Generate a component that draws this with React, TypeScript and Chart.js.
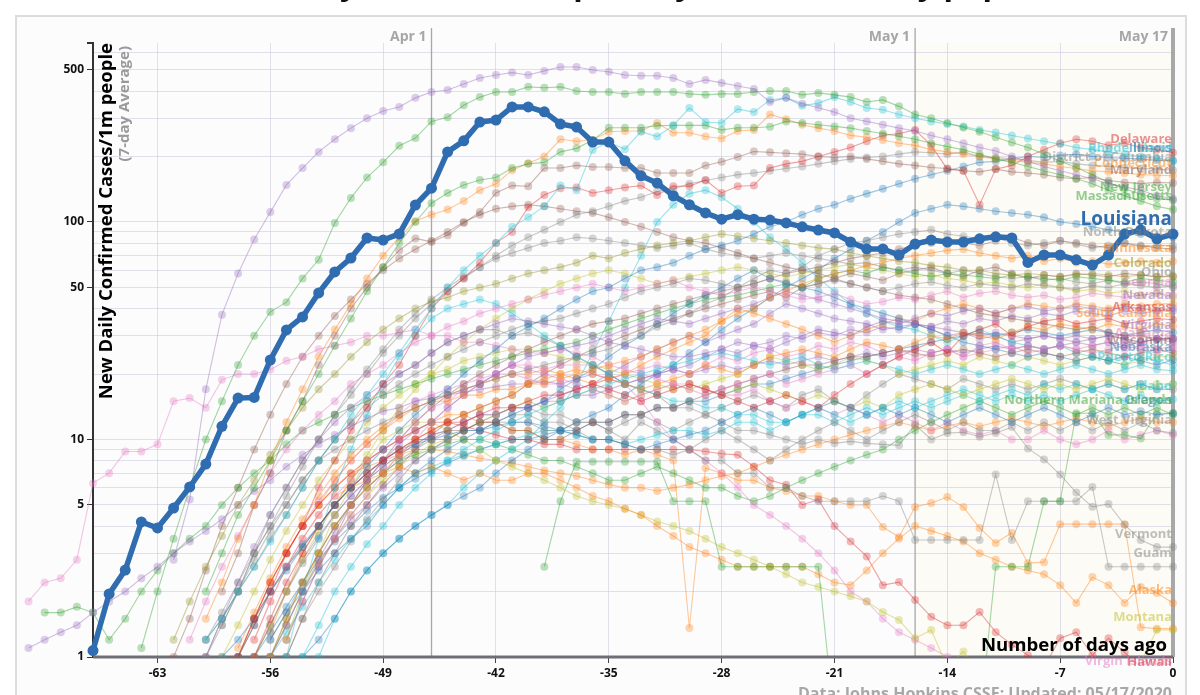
import React, { useEffect, useRef } from 'react';
import { Chart, registerables } from 'chart.js';
Chart.register(...registerables);

// ---------- axes / annotations ----------
const X_TICKS = [-63, -56, -49, -42, -35, -28, -21, -14, -7, 0];
const Y_GRID = [1, 2, 3, 4, 5, 6, 7, 8, 9, 10, 20, 30, 40, 50, 60, 70, 80, 90, 100, 200, 300, 400, 500, 600];
const Y_LABELED = [1, 5, 10, 50, 100, 500];
const EVENT_LABELS = ['Apr 1', 'May 1', 'May 17'];
const EVENT_DAYS = [-46, -16, 0];
const TITLE = 'Louisiana Daily Cases, Totals per Day, Normalized by population';

// ---------- series (each array ends at day 0) ----------
const LOUISIANA = [1.07, 1.95, 2.51, 4.18, 3.92, 4.84, 6.05, 7.71, 11.5, 15.5, 15.6, 23.2, 31.9, 36.6, 47.2, 58.9, 68.3, 84.4, 82.6, 88.1, 119.7, 143, 210, 236, 288, 294, 338, 338, 321, 282, 273, 233, 233, 191, 163, 151, 132, 120, 110, 103, 108, 103, 102, 99, 95, 91.8, 89, 80.9, 75.2, 75.2, 70.5, 79.2, 82.6, 80.9, 80.9, 83.7, 85.5, 84.4, 65.2, 70.5, 70.5, 67, 63.4, 70.5, 88, 91.8, 83.7, 88];
const NEW_YORK = [2.8, 5.3, 17, 37.5, 58, 83, 111, 148, 177, 210, 240, 270, 300, 324, 338, 372, 396, 404, 431, 459, 474, 486, 474, 495, 516, 516, 500, 490, 474, 470, 470, 459, 431, 450, 436, 422, 409, 356, 372, 350, 335, 320, 300, 290, 280, 270, 262, 250, 240, 230, 220, 212, 200, 190, 180, 172, 165, 158, 150, 145, 140, 132, 128];
const NEW_JERSEY = [1.1, 2, 3.5, 6, 10, 15, 22, 30, 38.6, 42.8, 55, 67, 99, 129, 160, 188, 224, 243, 290, 303, 344, 375, 396, 396, 418, 414, 418, 400, 396, 396, 388, 396, 396, 396, 388, 384, 388, 388, 396, 400, 400, 384, 392, 384, 375, 356, 364, 340, 312, 300, 285, 272, 260, 245, 232, 220, 205, 190, 178, 165, 152, 142, 134, 128, 126];
const RHODE_ISLAND = [1.2, 1.5, 2, 2.6, 3.4, 4.5, 6, 8, 10, 13, 16, 20, 25, 32, 40, 50, 60, 70, 80, 95, 105, 118, 147, 140, 214, 233, 216, 260, 247, 278, 334, 288, 285, 330, 320, 364, 372, 342, 352, 375, 356, 334, 328, 312, 300, 290, 282, 275, 265, 258, 250, 242, 235, 228, 220, 215, 210, 205, 200, 196, 191];
const MASSACHUSETTS = [2, 3, 4.5, 6, 8, 11, 15, 20, 27, 36, 48, 62, 80, 100, 122, 136, 148, 156, 160, 177, 185, 188, 210, 218, 238, 271, 271, 271, 277, 278, 278, 278, 265, 271, 271, 274, 290, 285, 280, 275, 270, 262, 255, 248, 240, 230, 222, 215, 205, 195, 188, 180, 172, 165, 158, 150, 140, 132, 125, 118, 114];
const CONNECTICUT = [1.5, 2.2, 3.5, 5, 8, 12, 17, 24, 32, 42, 55, 70, 85, 101, 108, 114, 125, 140, 150, 173, 186, 200, 240, 235, 238, 260, 262, 262, 285, 257, 257, 247, 242, 262, 265, 312, 297, 280, 270, 262, 250, 245, 238, 230, 225, 215, 210, 205, 200, 195, 192, 188, 185, 180, 176, 172, 170, 168, 165, 164, 163];
const MARYLAND = [2, 3, 5, 7, 11, 15, 22, 30, 40, 50, 62, 74, 84, 81, 87, 99, 111, 136, 147, 146, 177, 177, 182, 179, 179, 177, 177, 168, 168, 168, 182, 189, 199, 211, 209, 207, 205, 200, 198, 200, 195, 190, 185, 182, 178, 176, 172, 170, 175, 170, 168, 165, 160, 158, 160, 155, 152, 150, 152, 151];
const DELAWARE = [1.5, 2, 3, 4, 6, 8, 11, 14, 18, 22, 30, 40, 48, 55, 65, 80, 90, 117, 133, 143, 144, 136, 140, 144, 147, 133, 146, 146, 156, 136, 146, 147, 177, 185, 190, 200, 210, 220, 235, 250, 255, 265, 225, 175, 172, 120, 175, 182, 200, 215, 230, 240, 235, 225, 230, 220, 215, 208];
const DISTRICT_OF_COLUMBIA = [1.4, 2, 3, 4.5, 6, 8, 10, 13, 16, 20, 25, 30, 36, 42, 48, 55, 62, 70, 78, 85, 92, 100, 108, 112, 118, 125, 130, 138, 142, 150, 155, 160, 165, 168, 172, 176, 180, 185, 190, 195, 198, 200, 205, 210, 208, 205, 210, 200, 198, 195, 192, 188, 190, 185, 182, 180, 178, 176, 175, 173];
const ILLINOIS = [1, 1.2, 1.5, 2, 2.5, 3.2, 4, 5, 6, 7.5, 9, 11, 13, 15, 17, 20, 23, 26, 30, 33, 36, 40, 44, 48, 50, 55, 60, 62, 65, 70, 75, 78, 82, 88, 95, 100, 108, 115, 120, 128, 135, 142, 150, 158, 165, 172, 180, 188, 190, 195, 200, 198, 202, 205, 200, 198, 196, 195, 192, 191];
const NORTH_DAKOTA = [1.2, 1.6, 2.2, 3, 4, 5, 6.5, 8, 9, 10, 11, 12, 13, 14, 15, 16, 17, 18, 19, 20, 21, 22, 23, 24, 25, 26, 28, 30, 33, 35, 38, 42, 45, 50, 55, 60, 58, 62, 70, 75, 80, 82, 85, 88, 90, 92, 88, 86, 84, 85, 80, 78, 80, 82, 79, 76, 78, 80, 77, 78, 78];
const MINNESOTA = [1.1, 1.6, 2.3, 3.2, 4.3, 5.5, 7, 8.5, 10, 11.5, 13, 14, 15, 15, 16, 16, 17, 17, 18, 18, 19, 20, 21, 22, 23, 24, 26, 28, 30, 32, 35, 38, 40, 45, 48, 52, 55, 58, 60, 63, 65, 68, 70, 72, 74, 75, 72, 70, 68, 70, 66, 68, 65, 66, 64, 65, 66, 65, 66];
const COLORADO = [1.2, 1.8, 2.6, 3.6, 5, 6.5, 8.5, 11, 14, 17, 20, 24, 28, 32, 36, 40, 43, 45, 48, 50, 52, 55, 58, 60, 62, 65, 70, 68, 72, 75, 78, 80, 82, 85, 88, 86, 84, 82, 80, 78, 76, 75, 72, 70, 68, 66, 65, 63, 62, 60, 60, 58, 57, 58, 57, 56, 57, 58, 57, 56, 57, 56, 56.5];
const OHIO = [1, 1.4, 2, 2.8, 3.8, 5, 6.5, 8, 10, 12, 14, 16, 18, 20, 22, 24, 26, 28, 30, 32, 34, 35, 36, 38, 40, 42, 45, 48, 50, 52, 55, 54, 52, 50, 52, 55, 53, 50, 52, 54, 52, 50, 48, 50, 52, 53, 51, 50, 52, 51, 50, 52, 51, 50, 49, 51, 50, 52, 51, 50, 51];
const GEORGIA = [1.2, 1.8, 2.6, 3.6, 5, 7, 9, 11, 13, 15, 18, 20, 22, 25, 28, 30, 33, 35, 38, 40, 42, 44, 46, 48, 50, 52, 50, 48, 50, 52, 54, 50, 48, 46, 48, 50, 48, 46, 44, 45, 47, 44, 42, 43, 45, 44, 46, 48, 45, 47, 48, 46, 45, 46, 44, 45, 47, 46, 45, 46, 47, 46];
const NEVADA = [1, 1.5, 2.2, 3.2, 4.5, 6, 8, 10, 12, 14, 16, 18, 20, 22, 25, 28, 30, 32, 34, 36, 35, 34, 33, 32, 30, 28, 27, 26, 25, 24, 24, 25, 26, 28, 27, 26, 28, 30, 32, 31, 30, 33, 35, 34, 36, 38, 37, 39, 40, 38, 40, 41, 39, 40, 41, 40, 39, 41, 40, 39, 40.2];
const ARKANSAS = [1, 1.5, 2.2, 3, 4, 5, 6, 7, 8, 9, 10, 11, 12, 12, 13, 14, 14, 15, 16, 16, 17, 18, 17, 16, 15, 16, 17, 18, 17, 16, 15, 14, 15, 16, 15, 14, 16, 18, 20, 22, 24, 26, 28, 25, 30, 32, 34, 30, 33, 35, 36, 34, 35, 36, 34, 35, 36, 35.5];
const SOUTH_CAROLINA = [1, 1.5, 2.2, 3, 4, 5, 6, 7, 8.5, 10, 11, 12, 13, 14, 15, 16, 18, 19, 20, 21, 20, 19, 18, 17, 18, 19, 20, 22, 21, 20, 22, 24, 25, 26, 25, 24, 26, 28, 27, 26, 28, 30, 29, 31, 30, 29, 31, 33, 32, 34, 33, 32, 34, 33, 32, 34, 33.2];
const VIRGINIA = [1, 1.4, 2, 2.8, 3.8, 5, 6.5, 8, 9.5, 11, 12, 14, 16, 18, 20, 22, 24, 25, 26, 27, 28, 30, 32, 34, 36, 35, 34, 36, 38, 40, 42, 45, 48, 46, 44, 42, 40, 38, 36, 35, 34, 33, 32, 31, 30, 31, 30, 29, 30, 29, 30, 29, 30, 29, 28, 29, 29.2];
const ALABAMA = [1.2, 1.8, 2.6, 3.5, 4.5, 5.5, 6.5, 8, 9, 10, 12, 14, 15, 17, 18, 20, 22, 21, 20, 19, 18, 17, 16, 15, 16, 17, 18, 17, 16, 17, 18, 19, 20, 18, 19, 20, 21, 22, 20, 22, 24, 23, 25, 26, 24, 27, 28, 26, 27, 26, 27, 26, 27, 28, 26, 27, 26, 26.9];
const WISCONSIN = [1, 1.4, 2, 2.6, 3.2, 4, 5, 6, 7, 8, 9, 10, 10, 11, 11, 12, 12, 11, 11, 10, 10, 11, 12, 12, 13, 13, 14, 14, 15, 16, 17, 18, 19, 20, 21, 22, 22, 23, 24, 24, 25, 26, 25, 24, 25, 26, 25, 24, 25, 26, 25, 24, 25, 26, 25, 24, 25, 26, 25];
const NEBRASKA = [1.2, 1.6, 2, 2.5, 3, 3.5, 4, 5, 6, 7, 8, 9, 10, 11, 12, 13, 14, 15, 17, 19, 21, 24, 27, 30, 34, 38, 42, 46, 50, 55, 60, 55, 52, 50, 48, 45, 42, 40, 38, 36, 34, 32, 30, 28, 27, 26, 25, 24, 25, 24, 23, 24, 23, 24, 23, 22, 23.2];
const PUERTO_RICO = [1, 1.4, 2, 2.6, 3.3, 4, 5, 6, 7, 8, 9, 10, 11, 12, 13, 14, 15, 16, 17, 18, 19, 20, 21, 22, 23, 24, 25, 24, 23, 22, 23, 24, 22, 21, 22, 23, 22, 21, 20, 21, 22, 21, 20, 21, 22, 21, 20, 21, 22, 21, 20, 21, 22, 21, 20.7];
const IDAHO = [1, 2, 3.5, 6, 9, 13, 18, 24, 30, 36, 40, 42, 44, 42, 38, 34, 30, 27, 24, 22, 20, 18, 17, 16, 15, 15, 14, 14, 13, 13, 12, 12, 13, 14, 13, 12, 13, 14, 15, 14, 15, 16, 17, 16, 15, 16, 15, 16, 15, 16, 17, 16, 15, 16, 15, 15.3];
const OREGON = [1, 1.4, 2, 2.6, 3.3, 4, 5, 6, 7, 8, 9, 9.5, 10, 10.5, 11, 11, 11.5, 12, 12, 11.5, 11, 10.5, 10, 10, 9.5, 9, 9.5, 10, 10.5, 11, 12, 13, 14, 13, 12, 13, 14, 15, 14, 13, 14, 13, 14, 13, 12, 13, 14, 13, 12, 13, 14, 13, 12, 13, 14, 13, 13.5, 13, 13.2];
const NORTHERN_MARIANA = [2.6, 5.2, 7.9, 7.9, 7.9, 7.9, 7.9, 7.9, 5.2, 5.2, 5.2, 2.6, 2.6, 2.6, 2.6, 2.6, 2.6, 2.6, 0.5, 0.5, 0.5, 0.5, 0.5, 0.5, 0.5, 0.5, 0.5, 0.5, 2.6, 2.6, 2.6, 5.2, 5.2, 13.2, 13.2, 10.5, 10.5, 10.1, 13.2, 13.2];
const WEST_VIRGINIA = [1, 1.5, 2, 2.6, 3.4, 4.3, 5.3, 6.5, 8, 9, 10, 11, 12, 12, 13, 13, 12, 12, 11, 10, 10, 9.5, 9, 9, 8.5, 9, 10, 11, 10, 9, 8, 9, 10, 11, 12, 11, 10, 11, 12, 13, 12, 11, 12, 11, 11, 12, 11, 12, 11, 12, 11, 12, 11, 12, 11, 10.7];
const VERMONT = [1.2, 1.5, 2, 2.6, 3.5, 4.5, 6, 8, 10, 12, 15, 17, 20, 22, 25, 28, 30, 32, 32, 30, 31, 29, 27, 24, 22, 20, 18, 17, 16, 14, 14, 13, 12, 11, 11, 10.5, 10, 9.5, 10, 9.6, 9.8, 9.6, 9.5, 9.4, 11.7, 10, 10.7, 10.8, 10.3, 10.7, 11.4, 9.1, 8.1, 6.9, 5.7, 4.9, 5.05, 4.05, 3.45, 3.2, 3.2];
const GUAM = [1.2, 1.6, 2.2, 3, 4, 5, 6, 7, 8, 9, 10, 10, 11, 11, 12, 12, 12, 11, 11, 12, 12, 11, 10, 12, 11, 10, 9, 8, 8, 7, 7, 6, 6, 5.5, 5.2, 5.2, 5.2, 5.2, 5.5, 5.2, 3.45, 3.45, 3.45, 3.45, 3.45, 6.9, 3.45, 5.2, 5.2, 5.2, 5.2, 6.05, 2.6, 2.6, 2.6, 2.6, 2.6];
const ALASKA = [1.2, 1.8, 2.6, 3.5, 4.5, 5.5, 6, 6.5, 7, 7.5, 7, 7.5, 7, 6.5, 7, 6.5, 6.5, 7, 7, 6.5, 6, 5.5, 5.2, 4.8, 4.5, 4, 3.6, 3.2, 3, 2.8, 2.6, 2.6, 2.6, 2.6, 2.6, 2.4, 2.2, 2.14, 2.5, 3, 3.5, 4, 3.8, 3.6, 3.4, 3, 2.8, 2.6, 2.5, 2.4, 2.14, 1.77, 2.33, 2.14, 1.77, 2.1, 1.97, 1.77];
const MONTANA = [1.2, 2, 3, 4.5, 6, 8, 10, 11, 12, 12, 11, 10, 9, 8, 7.5, 7, 6.5, 6, 5.5, 5.2, 5, 4.8, 4.5, 4.2, 4, 3.8, 3.5, 3.2, 3, 2.8, 2.6, 2.4, 2.2, 2.1, 2, 1.9, 1.8, 1.61, 1.48, 1.22, 1.33, 0.9, 1.06, 0.8, 0.7, 0.8, 0.7, 0.6, 0.7, 0.8, 0.9, 0.9, 0.95, 0.95, 1.33, 1.33];
const HAWAII = [1, 1.5, 2.2, 3, 4, 5, 6, 7, 8, 9, 10, 11, 12, 12, 11.5, 11, 10.5, 10, 10, 9.5, 9.5, 9, 9, 9, 9, 9, 9, 9, 9, 8.8, 8.6, 8.5, 7.5, 6.5, 6.2, 5, 5.3, 4, 3.4, 2.9, 2.14, 2.21, 1.83, 1.53, 1.4, 1.4, 1.61, 1.3, 1.14, 1.02, 0.9, 1.22, 1.3, 1.02, 1.22, 1.05, 0.9, 0.85, 0.82];
const VIRGIN_ISLANDS = [1.2, 1.8, 2.6, 3.5, 4.5, 5.5, 7, 8.5, 10, 12, 14, 16, 18, 20, 22, 22, 21, 22, 22, 22, 20, 18, 15, 12, 10, 9, 8, 7, 6, 5, 4.5, 4, 3.5, 3, 2.5, 2, 1.8, 1.5, 1.3, 1.2, 1.1, 1, 0.9, 0.9, 0.9, 0.8, 0.8, 0.9, 0.9, 0.8, 0.8, 0.85, 0.85, 0.8, 0.85, 0.83];
const WASHINGTON = [1.8, 2.2, 2.3, 2.8, 6.3, 7, 8.8, 8.8, 9.5, 15, 15.5, 14, 18.8, 20, 20, 21, 23, 24, 26, 27, 28, 30, 30, 31, 32, 30, 30, 28, 28, 27, 26, 25, 25, 26, 25, 24, 22, 21, 20, 19, 18, 18, 17, 16, 16, 17, 15, 14, 15, 14, 13, 14, 13, 12, 13, 12, 11, 12, 11, 10.5, 11, 10, 10, 11, 10, 9.5, 10, 11, 10, 10.5, 11, 10.5];
const CALIFORNIA = [1.1, 1.2, 1.3, 1.4, 1.6, 1.8, 2, 2.3, 2.6, 3, 3.4, 3.8, 4.3, 5, 5.8, 6.5, 7.5, 8.5, 9.5, 10.5, 11.5, 12.5, 13.5, 14, 15, 15.5, 16, 16.5, 17, 17.5, 18, 18, 18.5, 18, 19, 20, 19, 18, 19, 20, 21, 20, 21, 22, 21, 22, 23, 22, 23, 24, 23, 24, 25, 24, 25, 26, 25, 26, 25, 26, 27, 26, 27, 26, 27, 28, 27, 28, 27, 28, 29, 28];
const NEW_HAMPSHIRE = [1.6, 1.6, 1.7, 1.6, 1.2, 1.5, 2, 2.5, 3, 3.5, 4, 5, 6, 7, 8, 9.5, 11, 12, 13, 14, 15, 16, 17, 18, 19, 20, 21, 22, 23, 24, 25, 26, 27, 28, 30, 32, 34, 36, 38, 40, 42, 44, 45, 46, 48, 50, 52, 50, 55, 58, 60, 58, 62, 60, 58, 56, 58, 57, 56, 55, 57, 56, 55, 54, 56, 55, 54, 53, 55, 54, 53];
const MICHIGAN = [1, 1.5, 2.5, 4, 6, 9, 13, 18, 24, 30, 37, 44, 52, 60, 68, 75, 82, 90, 100, 108, 115, 118, 120, 118, 115, 112, 110, 105, 100, 95, 90, 85, 82, 80, 76, 72, 68, 65, 62, 60, 58, 55, 52, 50, 48, 46, 45, 44, 42, 40, 38, 37, 36, 35, 34, 33, 32, 33, 31, 30, 30, 29, 29];
const PENNSYLVANIA = [1, 1.5, 2, 3, 4, 5.5, 7.5, 10, 13, 17, 21, 26, 32, 38, 44, 50, 56, 62, 68, 72, 76, 80, 82, 85, 84, 82, 80, 78, 76, 78, 80, 75, 72, 70, 68, 70, 72, 70, 68, 66, 64, 65, 62, 60, 62, 60, 58, 60, 58, 56, 55, 56, 54, 55, 53, 52, 54, 52, 53, 52, 50];
const INDIANA = [1, 1.4, 2, 2.8, 3.8, 5, 6.5, 8.5, 11, 14, 17, 20, 24, 28, 32, 36, 40, 44, 48, 52, 55, 58, 60, 58, 55, 52, 54, 56, 58, 60, 62, 60, 58, 56, 58, 60, 62, 64, 62, 60, 58, 56, 57, 55, 54, 52, 53, 51, 50, 52, 50, 48, 49, 47, 48, 46, 47, 45];
const MISSISSIPPI = [1.2, 1.8, 2.6, 3.5, 5, 6.5, 8, 10, 12, 14, 16, 18, 20, 22, 24, 26, 28, 30, 32, 34, 35, 36, 38, 40, 42, 44, 46, 48, 50, 52, 55, 58, 60, 62, 65, 68, 70, 72, 75, 78, 80, 82, 80, 78, 82, 85, 80, 78, 82, 80, 78, 76, 80, 78, 76, 75];
const IOWA = [1, 1.2, 1.5, 2, 2.5, 3, 3.5, 4, 4.5, 5, 5.5, 6, 7, 8, 9, 10, 11, 12, 13, 14, 16, 18, 20, 22, 25, 28, 32, 36, 40, 45, 50, 55, 60, 68, 75, 82, 90, 100, 110, 115, 120, 118, 115, 112, 110, 108, 105, 100, 98, 95, 92, 90, 88, 86, 85];
const SOUTH_DAKOTA = [1, 1.5, 2, 2.5, 3, 3.5, 4, 4.5, 5, 6, 7, 8, 9, 10, 12, 14, 18, 25, 35, 50, 70, 100, 120, 135, 140, 130, 115, 100, 85, 75, 65, 55, 48, 42, 38, 35, 33, 32, 30, 28, 30, 32, 30, 28, 27, 26, 27, 25, 24, 23, 22, 24, 23, 22];
const TENNESSEE = [1, 1.5, 2.2, 3, 4, 5, 6.5, 8, 9.5, 11, 12.5, 14, 15, 16, 17, 18, 19, 20, 20, 21, 20, 19, 18, 19, 20, 22, 24, 26, 28, 30, 35, 40, 38, 36, 34, 32, 30, 28, 30, 32, 34, 36, 35, 38, 40, 42, 40, 38, 40, 42, 41, 40, 42, 41, 40, 42, 41, 42, 42];
const FLORIDA = [1, 1.4, 2, 2.8, 3.8, 5, 6.5, 8, 10, 12, 14, 16, 18, 20, 21, 23, 24, 25, 26, 26, 25, 24, 23, 22, 21, 20, 19, 18, 17, 18, 17, 16, 17, 18, 17, 16, 15, 16, 15, 14, 15, 14, 16, 17, 18, 17, 16, 17, 18, 19, 18, 17, 18, 17, 18, 19, 18, 17, 18, 18];
const TEXAS = [1, 1.3, 1.7, 2.2, 2.8, 3.5, 4.2, 5, 6, 7, 7.5, 8, 8.5, 9, 9.5, 10, 10.5, 11, 11, 10.5, 10, 10, 9.5, 10, 10.5, 11, 11, 10.5, 11, 12, 12, 11, 12, 13, 13, 12, 13, 14, 13, 14, 15, 14, 15, 16, 15, 16, 17, 16, 18, 17, 18, 17, 18, 17, 18, 17, 18];
const ARIZONA = [1, 1.4, 2, 2.8, 3.6, 4.5, 5.5, 6.5, 7.5, 8.5, 9.5, 10.5, 11, 12, 13, 13, 14, 14, 15, 15, 16, 16, 17, 18, 19, 20, 21, 22, 24, 26, 25, 27, 28, 30, 29, 31, 30, 32, 31, 33, 32, 34, 33, 35, 34, 36, 35, 37, 36, 38, 37, 39, 38, 37, 39, 38, 39, 39];
const UTAH = [1, 1.5, 2.2, 3, 4, 5.2, 6.5, 8, 9.5, 11, 13, 15, 16, 17, 18, 19, 20, 20, 19, 18, 18, 17, 18, 19, 20, 21, 22, 21, 20, 22, 24, 23, 25, 26, 24, 25, 27, 26, 28, 27, 25, 26, 24, 25, 26, 24, 25, 26, 27, 25, 26, 27, 26, 25, 26, 27, 26, 25, 26];
const NEW_MEXICO = [1, 1.5, 2.2, 3, 4, 5, 6.2, 7.5, 9, 10.5, 12, 13, 14, 15, 16, 18, 20, 22, 24, 26, 28, 30, 32, 34, 36, 38, 40, 42, 44, 46, 48, 45, 50, 52, 55, 58, 56, 54, 58, 60, 62, 58, 56, 60, 62, 58, 55, 57, 56, 58, 57, 56, 58, 57, 56, 56];
const MAINE = [1, 1.5, 2.2, 3, 4, 5, 6, 7, 8, 8.5, 9, 9.5, 10, 10, 9.5, 9, 8.5, 8, 8, 7.5, 7, 6.5, 6.5, 7, 7.5, 7, 6.5, 6, 6, 5.5, 5.2, 5.5, 6, 6.5, 7, 7.5, 8, 8.5, 9, 10, 11, 12, 13, 14, 15, 14, 13, 14, 15, 14, 13, 14, 13, 14, 13, 14, 13];
const KENTUCKY = [1, 1.4, 2, 2.7, 3.5, 4.5, 5.5, 6.5, 7.5, 8.5, 9.5, 10, 11, 12, 13, 14, 15, 14, 15, 16, 17, 16, 15, 16, 17, 18, 17, 18, 19, 20, 22, 24, 23, 22, 21, 22, 24, 23, 22, 20, 21, 22, 23, 22, 24, 23, 22, 24, 23, 22, 23, 24, 23, 22, 23, 24, 24];
const MISSOURI = [1, 1.4, 2, 2.7, 3.5, 4.5, 5.5, 6.5, 7.5, 8.5, 9.5, 10.5, 11, 12, 13, 13, 14, 14, 13, 13, 12, 12, 11, 12, 13, 12, 11, 12, 13, 14, 15, 16, 15, 14, 16, 17, 15, 14, 16, 18, 20, 19, 18, 17, 19, 18, 17, 18, 17, 18, 19, 18, 17, 18, 17, 18, 17, 17];
const KANSAS = [1, 1.4, 2, 2.7, 3.5, 4.3, 5, 6, 7, 8, 9, 10, 11, 12, 13, 14, 14, 15, 16, 17, 18, 20, 22, 24, 26, 28, 30, 28, 30, 32, 34, 38, 42, 40, 38, 36, 35, 34, 32, 33, 34, 32, 30, 31, 29, 30, 28, 29, 30, 29, 28, 29, 30, 29, 28, 29, 29];
const NORTH_CAROLINA = [1, 1.3, 1.7, 2.2, 2.8, 3.4, 4, 4.7, 5.4, 6, 6.6, 7.2, 7.8, 8.4, 9, 9.5, 10, 10, 10.5, 11, 11, 12, 12, 13, 13, 14, 14, 15, 15, 16, 17, 18, 18, 19, 20, 21, 22, 23, 24, 25, 26, 27, 28, 29, 30, 31, 30, 31, 32, 31, 30, 31, 32, 31, 30, 31, 32, 31];
const OKLAHOMA = [1, 1.5, 2.2, 3, 4, 5, 6, 7, 7.5, 8, 8.5, 9, 9, 8.8, 8.5, 8.2, 8, 7.8, 7.5, 7.2, 7, 6.8, 6.5, 6.2, 6, 6, 5.8, 6, 6.2, 6.5, 6.8, 7, 7.5, 8, 8.5, 9, 9.5, 10, 10.5, 11, 11.5, 12, 11.5, 11, 11.5, 12, 11.5, 12, 12.5, 12, 11.5, 12, 12.5, 12, 11.5, 12, 12.5, 12, 12];
const WYOMING = [1.3, 2, 3, 4, 5, 6.5, 8, 9, 10, 11, 12, 13, 13, 12, 12, 11, 11, 10, 10, 9.5, 9, 9, 8.5, 9, 8.5, 8, 1.36, 7.4, 7, 6.5, 6.5, 6, 5.8, 5.5, 5.5, 5.2, 5, 5, 3.96, 3.56, 4.89, 5.1, 5.44, 4.89, 3.92, 3.34, 3.72, 2.7, 2.73, 4.08, 4.08, 4.08, 4.08, 4.08, 1.37, 1.35, 1.35];

// [name, values, colour, show end label]
const SERIES: [string, number[], string, boolean][] = [
  ['New York', NEW_YORK, '#9467bd', false],
  ['New Jersey', NEW_JERSEY, '#2ca02c', true],
  ['Rhode Island', RHODE_ISLAND, '#17becf', true],
  ['Massachusetts', MASSACHUSETTS, '#2ca02c', true],
  ['Connecticut', CONNECTICUT, '#ff7f0e', true],
  ['Maryland', MARYLAND, '#8c564b', true],
  ['Delaware', DELAWARE, '#d62728', true],
  ['District of Columbia', DISTRICT_OF_COLUMBIA, '#7f7f7f', true],
  ['Illinois', ILLINOIS, '#1f77b4', true],
  ['North Dakota', NORTH_DAKOTA, '#7f7f7f', true],
  ['Minnesota', MINNESOTA, '#ff7f0e', true],
  ['Colorado', COLORADO, '#8f8f1f', true],
  ['Ohio', OHIO, '#7f7f7f', true],
  ['Georgia', GEORGIA, '#e377c2', true],
  ['Nevada', NEVADA, '#9467bd', true],
  ['Arkansas', ARKANSAS, '#d62728', true],
  ['South Carolina', SOUTH_CAROLINA, '#ff7f0e', true],
  ['Virginia', VIRGINIA, '#9467bd', true],
  ['Alabama', ALABAMA, '#e377c2', true],
  ['Wisconsin', WISCONSIN, '#8c564b', true],
  ['Nebraska', NEBRASKA, '#1f77b4', true],
  ['Puerto Rico', PUERTO_RICO, '#17becf', true],
  ['Idaho', IDAHO, '#17becf', true],
  ['Oregon', OREGON, '#1f77b4', true],
  ['Northern Mariana Islands', NORTHERN_MARIANA, '#2ca02c', true],
  ['West Virginia', WEST_VIRGINIA, '#7f7f7f', true],
  ['Vermont', VERMONT, '#7f7f7f', true],
  ['Guam', GUAM, '#7f7f7f', true],
  ['Alaska', ALASKA, '#ff7f0e', true],
  ['Montana', MONTANA, '#bcbd22', true],
  ['Virgin Islands', VIRGIN_ISLANDS, '#e377c2', true],
  ['Hawaii', HAWAII, '#d62728', true],
  ['Washington', WASHINGTON, '#e377c2', false],
  ['California', CALIFORNIA, '#9467bd', false],
  ['New Hampshire', NEW_HAMPSHIRE, '#2ca02c', false],
  ['Michigan', MICHIGAN, '#8c564b', false],
  ['Pennsylvania', PENNSYLVANIA, '#7f7f7f', false],
  ['Indiana', INDIANA, '#bcbd22', false],
  ['Mississippi', MISSISSIPPI, '#8c564b', false],
  ['Iowa', IOWA, '#1f77b4', false],
  ['South Dakota', SOUTH_DAKOTA, '#17becf', false],
  ['Tennessee', TENNESSEE, '#ff7f0e', false],
  ['Florida', FLORIDA, '#bcbd22', false],
  ['Texas', TEXAS, '#17becf', false],
  ['Arizona', ARIZONA, '#9467bd', false],
  ['Utah', UTAH, '#e377c2', false],
  ['New Mexico', NEW_MEXICO, '#8c564b', false],
  ['Maine', MAINE, '#2ca02c', false],
  ['Kentucky', KENTUCKY, '#bcbd22', false],
  ['Missouri', MISSOURI, '#7f7f7f', false],
  ['Kansas', KANSAS, '#9467bd', false],
  ['North Carolina', NORTH_CAROLINA, '#1f77b4', false],
  ['Oklahoma', OKLAHOMA, '#ff7f0e', false],
  ['Wyoming', WYOMING, '#ff7f0e', false],
];

const LA_COLOR = '#2f6db0';
const FONT = '"Open Sans", "DejaVu Sans", sans-serif';
const X_MIN = -67;

function rgba(hex: string, a: number) {
  const n = parseInt(hex.slice(1), 16);
  return `rgba(${(n >> 16) & 255},${(n >> 8) & 255},${n & 255},${a})`;
}
// points are handed over newest-first so that Chart.js does not trim the days left of the axis
const toPoints = (arr: number[]) => arr.map((v, i) => ({ x: i - (arr.length - 1), y: v })).reverse();

const overlay = {
  id: 'overlay',
  beforeDraw(chart: any) {
    const ctx = chart.ctx;
    const xs = chart.scales.x;
    const { top, bottom } = chart.chartArea;
    ctx.save();
    ctx.fillStyle = '#ffffff';
    ctx.fillRect(0, 0, chart.width, chart.height);
    ctx.fillStyle = '#fcfcfd';
    ctx.fillRect(16, 16, 1170, 700);
    ctx.strokeStyle = '#dcdcdc';
    ctx.lineWidth = 2;
    ctx.strokeRect(16, 16, 1170, 700);
    const x1 = xs.getPixelForValue(-16);
    const x2 = xs.getPixelForValue(0);
    ctx.fillStyle = 'rgba(255,250,228,0.3)';
    ctx.fillRect(x1, top, x2 - x1, bottom - top);
    ctx.restore();
  },
  beforeDatasetsDraw(chart: any) {
    const ctx = chart.ctx;
    const xs = chart.scales.x;
    const { top, bottom, left, right } = chart.chartArea;
    ctx.save();
    EVENT_DAYS.forEach((d, i) => {
      const x = xs.getPixelForValue(d);
      ctx.strokeStyle = '#a8a8a8';
      ctx.lineWidth = d === 0 ? 4 : 1.3;
      ctx.beginPath();
      ctx.moveTo(x, 28);
      ctx.lineTo(x, bottom);
      ctx.stroke();
      ctx.fillStyle = '#a6a6a6';
      ctx.font = `bold 14px ${FONT}`;
      ctx.textAlign = 'right';
      ctx.textBaseline = 'alphabetic';
      ctx.fillText(EVENT_LABELS[i], x - 5, 41);
    });
    ctx.strokeStyle = '#333';
    ctx.lineWidth = 2;
    ctx.beginPath();
    ctx.moveTo(left - 6, top);
    ctx.lineTo(left, top);
    ctx.lineTo(left, bottom);
    ctx.stroke();
    ctx.strokeStyle = '#6e6e78';
    ctx.lineWidth = 3;
    ctx.beginPath();
    ctx.moveTo(left, bottom);
    ctx.lineTo(right, bottom);
    ctx.stroke();
    ctx.restore();
  },
  afterDatasetsDraw(chart: any) {
    const ctx = chart.ctx;
    const xs = chart.scales.x;
    const ys = chart.scales.y;
    ctx.save();
    // Chart.js skips point markers outside the plot area; the days before the axis still get their dots
    SERIES.forEach(([, vals, color]) => {
      vals.forEach((v, i) => {
        const day = i - (vals.length - 1);
        if (day >= X_MIN) return;
        ctx.fillStyle = rgba(color, 0.32);
        ctx.beginPath();
        ctx.arc(xs.getPixelForValue(day), ys.getPixelForValue(v), 4, 0, Math.PI * 2);
        ctx.fill();
      });
    });
    ctx.textAlign = 'right';
    ctx.textBaseline = 'middle';
    ctx.font = `bold 13px ${FONT}`;
    SERIES.forEach(([name, vals, color, show]) => {
      if (!show) return;
      const y = ys.getPixelForValue(vals[vals.length - 1]) - 13;
      ctx.fillStyle = rgba(color, 0.5);
      ctx.fillText(name, 1172, y);
    });
    const ly = ys.getPixelForValue(LOUISIANA[LOUISIANA.length - 1]) - 14;
    ctx.font = `bold 19px ${FONT}`;
    ctx.fillStyle = LA_COLOR;
    ctx.fillText('Louisiana', 1172, ly);
    ctx.restore();
  },
  afterDraw(chart: any) {
    const ctx = chart.ctx;
    ctx.save();
    // title, cut off by the top of the page: fit so that the descenders land where they do in the source
    ctx.textAlign = 'left';
    ctx.textBaseline = 'alphabetic';
    ctx.font = `bold 30px ${FONT}`;
    const iy = TITLE.indexOf('Daily') + 4;
    const ip = TITLE.indexOf('population') + 2;
    const a0 = ctx.measureText(TITLE.slice(0, iy)).width;
    const b0 = ctx.measureText(TITLE.slice(0, ip)).width;
    const size = (30 * (983 - 340)) / (b0 - a0);
    ctx.font = `bold ${size.toFixed(1)}px ${FONT}`;
    const a1 = ctx.measureText(TITLE.slice(0, iy)).width;
    ctx.fillStyle = '#111';
    ctx.fillText(TITLE, 340 - a1, -5);
    // y axis titles
    ctx.save();
    ctx.translate(107, 43);
    ctx.rotate(-Math.PI / 2);
    ctx.textAlign = 'right';
    ctx.textBaseline = 'middle';
    ctx.font = `bold 18.5px ${FONT}`;
    ctx.fillStyle = '#000';
    ctx.fillText('New Daily Confirmed Cases/1m people', 0, 0);
    ctx.restore();
    ctx.save();
    ctx.translate(125, 46);
    ctx.rotate(-Math.PI / 2);
    ctx.textAlign = 'right';
    ctx.textBaseline = 'middle';
    ctx.font = `bold 15px ${FONT}`;
    ctx.fillStyle = '#9a9a9a';
    ctx.fillText('(7-day Average)', 0, 0);
    ctx.restore();
    // x axis title
    ctx.textAlign = 'right';
    ctx.textBaseline = 'alphabetic';
    ctx.font = `bold 18.6px ${FONT}`;
    ctx.fillStyle = '#000';
    ctx.fillText('Number of days ago', 1167, 651);
    // footer
    ctx.font = `bold 16px ${FONT}`;
    ctx.fillStyle = '#a8a8a8';
    ctx.fillText('Data: Johns Hopkins CSSE; Updated: 05/17/2020', 1172, 699);
    ctx.restore();
  },
};

export default function App() {
  const ref = useRef<HTMLCanvasElement | null>(null);
  useEffect(() => {
    document.body.style.margin = '0';
    const clip = { left: 90, top: 12, right: 12, bottom: 0 };
    const bg = SERIES.map(([name, vals, color]) => ({
      label: name,
      data: toPoints(vals),
      borderColor: rgba(color, 0.42),
      borderWidth: 1.1,
      pointRadius: 4,
      pointBackgroundColor: rgba(color, 0.32),
      pointBorderWidth: 0,
      pointHoverRadius: 0,
      tension: 0,
      clip,
      order: 1,
    }));
    const la = {
      label: 'Louisiana',
      data: toPoints(LOUISIANA),
      borderColor: LA_COLOR,
      borderWidth: 5.5,
      pointRadius: 5.5,
      pointBackgroundColor: LA_COLOR,
      pointBorderWidth: 0,
      pointHoverRadius: 0,
      tension: 0,
      clip,
      order: 0,
    };
    const chart = new Chart(ref.current as HTMLCanvasElement, {
      type: 'line',
      data: { datasets: [la, ...bg] as any },
      options: {
        responsive: false,
        animation: false,
        events: [],
        layout: { padding: { left: 0, right: 27, top: 43, bottom: 0 } },
        plugins: { legend: { display: false }, tooltip: { enabled: false }, title: { display: false } },
        scales: {
          x: {
            type: 'linear',
            min: X_MIN,
            max: 0,
            border: { display: false },
            grid: { color: 'rgba(200,200,222,0.55)', tickColor: '#444', tickLength: 6, lineWidth: 1 },
            ticks: { autoSkip: false, maxRotation: 0, padding: 3, color: '#111', font: { family: FONT, size: 12, weight: 'bold' }, callback: (v: any) => String(v) },
            afterBuildTicks: (s: any) => { s.ticks = X_TICKS.map((v) => ({ value: v })); },
            afterFit: (s: any) => { s.height = 38; },
          },
          y: {
            type: 'logarithmic',
            min: 1,
            max: 665,
            border: { display: false },
            grid: {
              color: 'rgba(200,200,222,0.55)',
              lineWidth: 1,
              tickLength: 6,
              tickColor: (c: any) => (c.tick && Y_LABELED.includes(c.tick.value) ? '#333' : 'rgba(0,0,0,0)'),
            },
            ticks: {
              autoSkip: false,
              padding: 3,
              color: '#111',
              font: { family: FONT, size: 12, weight: 'bold' },
              callback: (v: any) => (Y_LABELED.includes(v) ? String(v) : ''),
            },
            afterBuildTicks: (s: any) => { s.ticks = Y_GRID.map((v) => ({ value: v })); },
            afterFit: (s: any) => { s.width = 93; },
          },
        },
      } as any,
      plugins: [overlay],
    });
    return () => chart.destroy();
  }, []);
  return (
    <canvas
      ref={ref}
      width={1200}
      height={695}
      style={{ display: 'block', position: 'absolute', left: 0, top: 0, width: 1200, height: 695 }}
    />
  );
}
